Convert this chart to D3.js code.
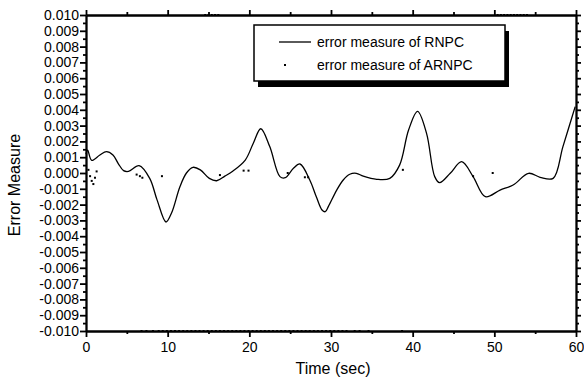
<!DOCTYPE html>
<html>
<head>
<meta charset="utf-8">
<script src="https://cdnjs.cloudflare.com/ajax/libs/d3/7.8.5/d3.min.js"></script>
<style>
  body { margin: 0; background: #fff; }
  text { font-family: "Liberation Sans", Arial, sans-serif; fill: #000; }
  .axis path, .axis line { stroke: #000; stroke-width: 1.8; }
</style>
</head>
<body>
<script>

// RNPC error curve (time in sec, error measure)
var rnpcTime = [0, 0.2, 0.7, 1.7, 2.5, 3.3, 3.95, 4.6, 5.2, 6.5, 7.8, 8.7, 9.8, 10.5, 11.5, 12.3, 13.1, 14.0, 15.1, 16.0, 17.0, 18.0, 19.5, 20.5, 21.4, 22.5, 23.75, 24.4, 25.4, 26.2, 27.4, 28.2, 28.9, 29.3, 29.7, 30.7, 31.5, 32.3, 33.1, 33.95, 35.6, 37.2, 38.4, 39.5, 40.6, 41.7, 42.7, 43.3, 44.6, 46.0, 47.4, 48.9, 50.7, 52.3, 54.2, 55.6, 57.2, 58.4, 59.9];
var rnpcError = [0.0012, 0.00145, 0.0008, 0.00114, 0.00135, 0.00114, 0.0006, 0.00015, 0.0001, 0.00046, -0.00034, -0.0017, -0.0031, -0.0025, -0.00087, 0.0, 0.00036, 0.0002, -0.00034, -0.00049, -0.0002, 0.00013, 0.00082, 0.0019, 0.0028, 0.00167, -0.00023, -0.0003, 0.0003, 0.00057, -0.00044, -0.0015, -0.00234, -0.00245, -0.0021, -0.00108, -0.00044, -0.00008, -0.00002, -0.0002, -0.0004, -0.00034, 0.0005, 0.00272, 0.0039, 0.00251, -0.00023, -0.00061, -0.00002, 0.00072, -0.00023, -0.0015, -0.00108, -0.00076, -0.00002, -0.00027, -0.00034, 0.00167, 0.0042];

// ARNPC error dots
var arnpcTime = [0.3, 0.5, 0.7, 0.9, 1.1, 1.3, 6.2, 6.6, 6.9, 9.3, 16.4, 19.3, 19.9, 24.7, 26.8, 27.2, 38.8, 47.4, 49.8];
var arnpcError = [0.0002, -0.0002, -0.0005, -0.0007, -0.0003, 0.0001, -0.0001, -0.0002, -0.0003, -0.0002, -0.00013, 0.00015, 0.00015, 0, -0.00027, -0.00027, 0.0002, -0.0002, 0];

// ARNPC dots sitting on the axis limits
var arnpcLowTime = [6.8, 7.4, 8.2, 8.9, 9.4, 9.9, 10.4, 10.9, 11.4, 11.9, 12.4, 12.9, 13.4, 13.9, 14.4, 14.9, 15.4, 15.9, 16.4, 16.9, 17.4, 17.9, 18.4, 18.9, 19.4, 19.9, 20.4, 20.9, 21.4, 21.9, 22.4, 22.9, 23.4, 23.9, 24.4, 24.9, 25.4, 25.9, 26.4, 26.9, 27.4, 27.9, 28.4, 28.9, 29.4, 29.9, 30.4, 30.9, 31.4, 31.9, 32.9, 33.5, 34.6, 38.7];
var arnpcHighTime = [14.6, 15.0, 15.4, 15.8, 16.2, 50.4, 50.8, 51.2, 51.6, 52.0, 52.4, 52.8, 53.2, 53.6, 54.0];
var arnpcLow = -0.0100;
var arnpcHigh = 0.0100;

// ticks
var xTicks = [0, 10, 20, 30, 40, 50, 60];
var xMinorTicks = [5, 15, 25, 35, 45, 55];
var yTicks = [0.010, 0.009, 0.008, 0.007, 0.006, 0.005, 0.004, 0.003, 0.002, 0.001, 0.000, -0.001, -0.002, -0.003, -0.004, -0.005, -0.006, -0.007, -0.008, -0.009, -0.010];
var yTickLabels = ["0.010", "0.009", "0.008", "0.007", "0.006", "0.005", "0.004", "0.003", "0.002", "0.001", "0.000", "-0.001", "-0.002", "-0.003", "-0.004", "-0.005", "-0.006", "-0.007", "-0.008", "-0.009", "-0.010"];
var yMinorTicks = [0.0095, 0.0085, 0.0075, 0.0065, 0.0055, 0.0045, 0.0035, 0.0025, 0.0015, 0.0005, -0.0005, -0.0015, -0.0025, -0.0035, -0.0045, -0.0055, -0.0065, -0.0075, -0.0085, -0.0095];
var legendNames = ["error measure of RNPC", "error measure of ARNPC"];

var svgWidth = 584;
var svgHeight = 383;
var margin = { top: 15, right: 8, bottom: 52, left: 86 };
var chartwidth = svgWidth - margin.left - margin.right;
var chartheight = svgHeight - margin.top - margin.bottom;

var svg = d3.select("body")
  .append("svg")
  .attr("width", svgWidth)
  .attr("height", svgHeight);

var chartGroup = svg.append("g")
  .attr("transform", `translate(${margin.left}, ${margin.top})`);

// scales
var xScale = d3.scaleLinear().domain([0, 60]).range([0, chartwidth]);
var yScale = d3.scaleLinear().domain([-0.010, 0.010]).range([chartheight, 0]);

// bottom axis
chartGroup.append("g")
  .attr("class", "axis")
  .attr("transform", `translate(0, ${chartheight})`)
  .call(d3.axisBottom(xScale).tickValues(xTicks).tickSize(6).tickSizeOuter(0).tickPadding(5))
  .call(g => g.selectAll("text").style("font-size", "14px"));
chartGroup.append("g")
  .attr("class", "axis")
  .attr("transform", `translate(0, ${chartheight})`)
  .call(d3.axisBottom(xScale).tickValues(xMinorTicks).tickSize(3).tickSizeOuter(0).tickFormat(""));

// top axis
chartGroup.append("g")
  .attr("class", "axis")
  .call(d3.axisTop(xScale).tickValues(xTicks).tickSize(5).tickSizeOuter(0).tickFormat(""));
chartGroup.append("g")
  .attr("class", "axis")
  .call(d3.axisTop(xScale).tickValues(xMinorTicks).tickSize(3).tickSizeOuter(0).tickFormat(""));

// left axis
chartGroup.append("g")
  .attr("class", "axis")
  .call(d3.axisLeft(yScale).tickValues(yTicks).tickSize(6).tickSizeOuter(0).tickPadding(1)
    .tickFormat((d, i) => yTickLabels[i]))
  .call(g => g.selectAll("text").style("font-size", "14px"));
chartGroup.append("g")
  .attr("class", "axis")
  .call(d3.axisLeft(yScale).tickValues(yMinorTicks).tickSize(3).tickSizeOuter(0).tickFormat(""));

// right axis
chartGroup.append("g")
  .attr("class", "axis")
  .attr("transform", `translate(${chartwidth}, 0)`)
  .call(d3.axisRight(yScale).tickValues(yTicks).tickSize(5).tickSizeOuter(0).tickFormat(""));
chartGroup.append("g")
  .attr("class", "axis")
  .attr("transform", `translate(${chartwidth}, 0)`)
  .call(d3.axisRight(yScale).tickValues(yMinorTicks).tickSize(3).tickSizeOuter(0).tickFormat(""));

// RNPC line
var rnpcData = rnpcTime.map((t, i) => ({ t: t, v: rnpcError[i] }));
var line1 = d3.line()
  .x(d => xScale(d.t))
  .y(d => yScale(d.v))
  .curve(d3.curveCatmullRom.alpha(0.5));

chartGroup.append("path")
  .datum(rnpcData)
  .attr("d", line1)
  .attr("fill", "none")
  .attr("stroke", "#000")
  .attr("stroke-width", 1.3);

// ARNPC dots
var arnpcData = arnpcTime.map((t, i) => ({ t: t, v: arnpcError[i] }))
  .concat(arnpcLowTime.map(t => ({ t: t, v: arnpcLow })))
  .concat(arnpcHighTime.map(t => ({ t: t, v: arnpcHigh })));

chartGroup.selectAll(".dot")
  .data(arnpcData)
  .enter()
  .append("rect")
  .attr("class", "dot")
  .attr("x", d => xScale(d.t) - 1)
  .attr("y", d => yScale(d.v) - 1)
  .attr("width", 2)
  .attr("height", 2)
  .attr("fill", "#000");

// legend box with shadow
var legend = svg.append("g").attr("transform", "translate(254, 25)");
legend.append("rect")
  .attr("x", 4).attr("y", 6)
  .attr("width", 251).attr("height", 56)
  .attr("fill", "#000");
legend.append("rect")
  .attr("width", 251).attr("height", 56)
  .attr("fill", "#fff")
  .attr("stroke", "#000")
  .attr("stroke-width", 1.5);

var legendRows = legend.selectAll(".legendRow")
  .data(legendNames)
  .enter()
  .append("g")
  .attr("class", "legendRow")
  .attr("transform", (d, i) => `translate(0, ${17 + i * 23})`);

legendRows.filter((d, i) => i === 0).append("line")
  .attr("x1", 25).attr("x2", 57)
  .attr("y1", 0).attr("y2", 0)
  .attr("stroke", "#000")
  .attr("stroke-width", 1.3);
legendRows.filter((d, i) => i === 1).append("rect")
  .attr("x", 30).attr("y", -1)
  .attr("width", 2).attr("height", 2)
  .attr("fill", "#000");

legendRows.append("text")
  .attr("x", 63)
  .attr("y", 5)
  .style("font-size", "14px")
  .text(d => d);

// axis titles
svg.append("text")
  .attr("transform", "rotate(-90)")
  .attr("x", -185)
  .attr("y", 20)
  .attr("text-anchor", "middle")
  .style("font-size", "16px")
  .text("Error Measure");

svg.append("text")
  .attr("x", 333)
  .attr("y", 374)
  .attr("text-anchor", "middle")
  .style("font-size", "16px")
  .text("Time (sec)");

</script>
</body>
</html>
